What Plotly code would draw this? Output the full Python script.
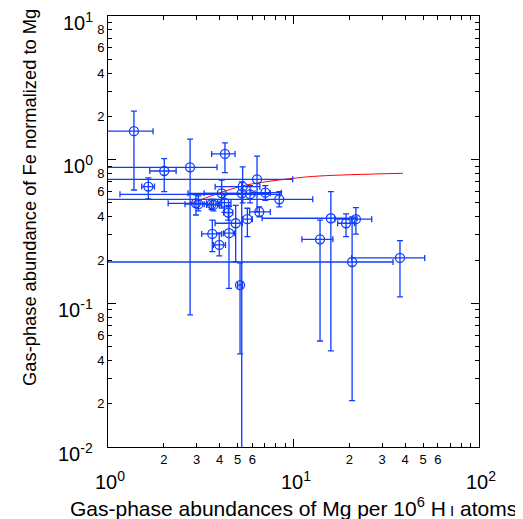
"""
Fe/Mg gas-phase ratio versus gas-phase Mg abundance (log-log, MATLAB style).
"""
import math
import plotly.graph_objects as go

# gas-phase Mg per 10^6 H I atoms, with lower / upper limits
mg = [1.38, 1.65, 2.01, 2.77, 4.27, 5.32, 6.36, 4.10, 5.26, 5.83,
      7.05, 8.38, 2.98, 3.07, 3.62, 3.70, 4.24, 4.45, 6.54, 5.64,
      4.88, 3.65, 4.49, 3.98, 5.15, 13.9, 15.9, 19.2, 21.7, 20.7, 37.5]
mg_lo = [0.94, 1.52, 1.68, 0.95, 3.62, 3.78, 0.93, 2.70, 3.30, 1.16,
         5.90, 0.95, 2.11, 2.60, 3.30, 3.40, 3.90, 4.20, 5.80, 5.30,
         3.78, 3.20, 4.20, 3.70, 5.00, 11.1, 6.77, 17.3, 16.7, 0.93, 20.6]
mg_hi = [1.75, 1.78, 2.33, 3.87, 4.84, 6.59, 9.90, 6.20, 7.50, 8.44,
         8.60, 12.7, 3.40, 3.60, 3.95, 4.00, 4.60, 4.70, 7.50, 6.00,
         5.30, 4.10, 4.80, 4.30, 5.30, 16.3, 22.0, 21.3, 26.4, 34.4, 51.0]

# gas-phase Fe normalized to Mg, with lower / upper limits
fe_mg = [1.58, 0.650, 0.834, 0.885, 1.096, 0.649, 0.730, 0.583, 0.583, 0.574,
         0.589, 0.530, 0.497, 0.490, 0.490, 0.484, 0.502, 0.428, 0.433, 0.385,
         0.361, 0.304, 0.308, 0.255, 0.134, 0.279, 0.391, 0.361, 0.385, 0.194, 0.207]
fe_lo = [0.615, 0.533, 0.600, 0.083, 0.812, 0.500, 0.434, 0.460, 0.005, 0.500,
         0.520, 0.470, 0.412, 0.440, 0.450, 0.440, 0.430, 0.380, 0.400, 0.291,
         0.195, 0.229, 0.127, 0.214, 0.0445, 0.0547, 0.0467, 0.291, 0.303, 0.021, 0.111]
fe_hi = [2.18, 0.746, 1.016, 1.39, 1.31, 0.890, 1.06, 0.720, 0.700, 0.660,
         0.660, 0.600, 0.568, 0.560, 0.530, 0.530, 0.570, 0.480, 0.470, 0.459,
         0.480, 0.380, 0.471, 0.309, 0.191, 0.380, 0.600, 0.419, 0.464, 0.400, 0.273]

# model curve (red)
curve_mg = [2.66, 3.13, 4.18, 5.59, 7.17, 9.98, 13.9, 38.9]
curve_fe = [0.492, 0.524, 0.599, 0.667, 0.703, 0.742, 0.770, 0.804]

# ticks: decades get long ticks + big labels, some minors get small labels
x_decades = [1, 10, 100]
y_decades = [0.01, 0.1, 1, 10]
x_labelled = [2, 3, 4, 5, 6]
y_labelled = [2, 4, 6, 8]

BLUE = 'rgb(15,60,255)'
FONT = 'Liberation Sans, Arial, Helvetica, sans-serif'


def minor_ticks(decades, labelled):
    # split 2..9 per decade into labelled and unlabelled positions
    lab, unlab = [], []
    for d in decades[:-1]:
        for k in range(2, 10):
            (lab if k in labelled else unlab).append(d * k)
    return lab, unlab


x_lab, x_unlab = minor_ticks(x_decades, x_labelled)
y_lab, y_unlab = minor_ticks(y_decades, y_labelled)

fig = go.Figure()

fig.add_trace(go.Scatter(
    x=curve_mg,
    y=curve_fe,
    mode='lines',
    line=dict(color='red', width=1, shape='spline'),
    showlegend=False
))

fig.add_trace(go.Scatter(
    x=mg,
    y=fe_mg,
    mode='markers',
    marker=dict(symbol='circle-open', size=9, color=BLUE, line=dict(color=BLUE, width=1.3)),
    error_x=dict(
        type='data', symmetric=False,
        array=[h - v for h, v in zip(mg_hi, mg)],
        arrayminus=[v - l for l, v in zip(mg_lo, mg)],
        color=BLUE, thickness=1.3, width=3
    ),
    error_y=dict(
        type='data', symmetric=False,
        array=[h - v for h, v in zip(fe_hi, fe_mg)],
        arrayminus=[v - l for l, v in zip(fe_lo, fe_mg)],
        color=BLUE, thickness=1.3, width=3
    ),
    showlegend=False
))

# empty trace so the overlay axes (unlabelled minor ticks) get drawn
fig.add_trace(go.Scatter(x=[], y=[], xaxis='x2', yaxis='y2', showlegend=False, hoverinfo='skip'))

axis_common = dict(
    type='log',
    showgrid=False,
    zeroline=False,
    showline=True,
    linecolor='black',
    linewidth=1,
    mirror='ticks',
    ticks='inside',
    ticklen=4,
    tickwidth=1,
    tickcolor='black',
    tickmode='array',
    tickfont=dict(family=FONT, size=13, color='black'),
)
x_range = [math.log10(x_decades[0]), math.log10(x_decades[-1])]
y_range = [math.log10(y_decades[0]), math.log10(y_decades[-1])]

fig.update_layout(
    xaxis=dict(
        **axis_common,
        range=x_range,
        tickvals=x_lab,
        ticktext=[str(round(v / 10 ** math.floor(math.log10(v)))) for v in x_lab],
        minor=dict(tickmode='array', tickvals=x_decades, ticks='inside', ticklen=8,
                   tickcolor='black', showgrid=False),
    ),
    yaxis=dict(
        **axis_common,
        range=y_range,
        tickvals=y_lab,
        ticktext=[str(round(v / 10 ** math.floor(math.log10(v) + 1e-9))) for v in y_lab],
        minor=dict(tickmode='array', tickvals=y_decades, ticks='inside', ticklen=8,
                   tickcolor='black', showgrid=False),
    ),
    xaxis2=dict(
        **{**axis_common, 'tickfont': None},
        range=x_range, overlaying='x', anchor='y', side='bottom',
        tickvals=x_unlab, showticklabels=False,
    ),
    yaxis2=dict(
        **{**axis_common, 'tickfont': None},
        range=y_range, overlaying='y', anchor='x', side='left',
        tickvals=y_unlab, showticklabels=False,
    ),
)

# decade labels, larger, as in the original
for d in x_decades:
    fig.add_annotation(
        x=math.log10(d), y=0, xref='x', yref='paper',
        text=f'10<sup>{int(math.log10(d))}</sup>',
        showarrow=False, yanchor='middle', yshift=-33, xshift=2,
        font=dict(family=FONT, size=20, color='black')
    )
for d in y_decades:
    fig.add_annotation(
        x=0, y=math.log10(d), xref='paper', yref='y',
        text=f'10<sup>{int(round(math.log10(d)))}</sup>',
        showarrow=False, xanchor='right', yanchor='middle', xshift=-13, yshift=-5,
        font=dict(family=FONT, size=20, color='black')
    )

# axis titles
fig.add_annotation(
    x=0.5, y=0, xref='paper', yref='paper',
    text='Gas-phase abundances of Mg per 10<sup>6</sup> H<span style="font-size:15px"> I</span> atoms',
    showarrow=False, yanchor='middle', yshift=-60,
    font=dict(family=FONT, size=21, color='black')
)
fig.add_annotation(
    x=0, y=0.578, xref='paper', yref='paper',
    text='Gas-phase abundance of Fe normalized to Mg',
    textangle=-90, showarrow=False, xanchor='center', yanchor='middle', xshift=-78,
    font=dict(family=FONT, size=18.3, color='black')
)

# the page body has an 8px margin, so the figure is 8px smaller on each side
fig.update_layout(
    width=515,
    height=511,
    margin=dict(l=100, r=44, t=8, b=72),
    plot_bgcolor='white',
    paper_bgcolor='white',
    font=dict(family=FONT, color='black'),
    showlegend=False
)

fig.write_html("out.html")
